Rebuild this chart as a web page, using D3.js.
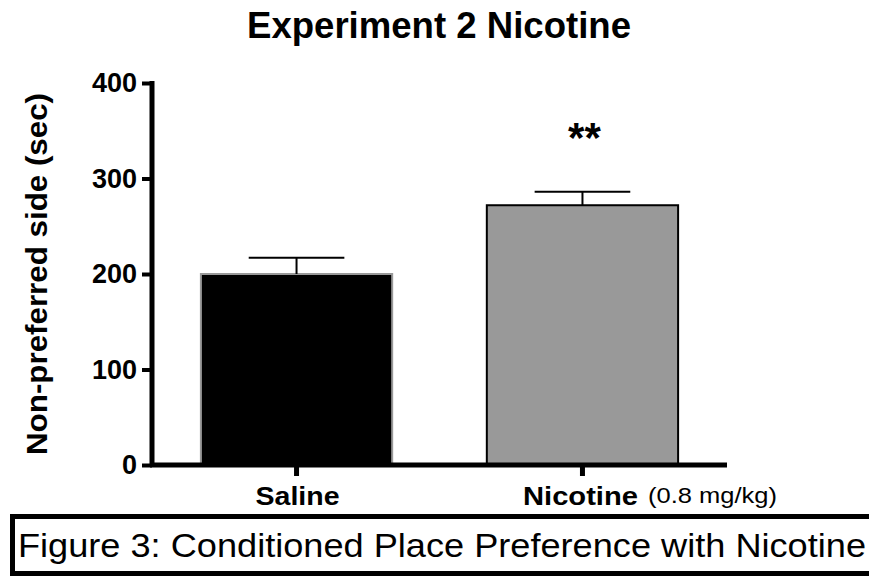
<!DOCTYPE html>
<html>
<head>
<meta charset="utf-8">
<script src="https://cdn.jsdelivr.net/npm/d3@7"></script>
<style>
  body { margin: 0; background: #fff; }
  svg { display: block; font-family: "Liberation Sans", Arial, Helvetica, sans-serif; }
</style>
</head>
<body>
<div id="chart"></div>
<script>
// data
const groups = ["Saline", "Nicotine"]
const means = [200, 272]
const sems = [17, 14]
const fills = ["#000000", "#999999"]
const strokes = ["#999999", "#000000"]
const stars = ["", "**"]
const yTicks = [0, 100, 200, 300, 400]

const width = 869, height = 577

const svg = d3.select("#chart").append("svg")
    .attr("width", width)
    .attr("height", height)

// scales
const x = d3.scaleBand()
    .domain(groups)
    .range([152, 727])
    .paddingInner(0.331)
    .paddingOuter(0.171)

const y = d3.scaleLinear()
    .domain([0, 400])
    .range([465, 83])

// title
svg.append("text")
    .attr("x", 439)
    .attr("y", 38)
    .attr("text-anchor", "middle")
    .attr("font-weight", "bold")
    .attr("font-size", 36)
    .attr("textLength", 384)
    .attr("lengthAdjust", "spacingAndGlyphs")
    .text("Experiment 2 Nicotine")

// bars
const bars = svg.append("g")
bars.selectAll("rect")
    .data(groups)
    .enter()
    .append("rect")
    .attr("x", d => x(d))
    .attr("y", (d, i) => y(means[i]))
    .attr("width", x.bandwidth())
    .attr("height", (d, i) => y(0) - y(means[i]))
    .attr("fill", (d, i) => fills[i])
    .attr("stroke", (d, i) => strokes[i])
    .attr("stroke-width", 2)

// error bars (upper only)
const err = svg.append("g").attr("stroke", "#000").attr("stroke-width", 2)
groups.forEach((g, i) => {
    const cx = x(g) + x.bandwidth() / 2
    err.append("line")
        .attr("x1", cx).attr("x2", cx)
        .attr("y1", y(means[i])).attr("y2", y(means[i] + sems[i]))
    err.append("line")
        .attr("x1", cx - x.bandwidth() / 4).attr("x2", cx + x.bandwidth() / 4)
        .attr("y1", y(means[i] + sems[i])).attr("y2", y(means[i] + sems[i]))
})

// significance stars
svg.append("g").selectAll("text")
    .data(groups)
    .enter()
    .append("text")
    .attr("x", d => x(d) + x.bandwidth() / 2 + 2)
    .attr("y", 152)
    .attr("text-anchor", "middle")
    .attr("font-weight", "bold")
    .attr("font-size", 42)
    .text((d, i) => stars[i])

// y axis
const yAxis = svg.append("g")
    .attr("transform", "translate(152,0)")
    .call(d3.axisLeft(y).tickValues(yTicks).tickSize(10).tickSizeOuter(0).tickPadding(5))
yAxis.select(".domain").attr("stroke-width", 5).attr("d", `M0,${y(400) - 2}V${y(0) + 2}`)
yAxis.selectAll(".tick line").attr("stroke-width", 4)
yAxis.selectAll(".tick text")
    .attr("font-size", 27)
    .attr("font-weight", "bold")
    .attr("fill", "#000")
    .attr("font-family", "'Liberation Sans', Arial, sans-serif")

// x axis
const xAxis = svg.append("g")
    .attr("transform", `translate(0,${y(0)})`)
    .call(d3.axisBottom(x).tickSize(11).tickSizeOuter(0).tickFormat(""))
xAxis.select(".domain").attr("stroke-width", 5).attr("d", "M150,0H727")
xAxis.selectAll(".tick line").attr("stroke-width", 5)

// x labels
svg.append("text")
    .attr("x", x("Saline") + x.bandwidth() / 2 + 1)
    .attr("y", 505)
    .attr("text-anchor", "middle")
    .attr("font-weight", "bold")
    .attr("font-size", 26)
    .attr("textLength", 84)
    .attr("lengthAdjust", "spacingAndGlyphs")
    .text("Saline")

svg.append("text")
    .attr("x", 523)
    .attr("y", 505)
    .attr("font-weight", "bold")
    .attr("font-size", 26)
    .attr("textLength", 115)
    .attr("lengthAdjust", "spacingAndGlyphs")
    .text("Nicotine")

svg.append("text")
    .attr("x", 648)
    .attr("y", 503)
    .attr("font-size", 22)
    .attr("textLength", 129)
    .attr("lengthAdjust", "spacingAndGlyphs")
    .text("(0.8 mg/kg)")

// y label
svg.append("text")
    .attr("transform", "translate(47,274) rotate(-90)")
    .attr("text-anchor", "middle")
    .attr("font-weight", "bold")
    .attr("font-size", 29)
    .attr("textLength", 362)
    .attr("lengthAdjust", "spacingAndGlyphs")
    .text("Non-preferred side (sec)")

// figure caption box
svg.append("rect")
    .attr("x", 12.5)
    .attr("y", 516.5)
    .attr("width", 870)
    .attr("height", 57)
    .attr("fill", "none")
    .attr("stroke", "#000")
    .attr("stroke-width", 5)

svg.append("text")
    .attr("x", 18)
    .attr("y", 557)
    .attr("font-size", 34)
    .attr("textLength", 848)
    .attr("lengthAdjust", "spacingAndGlyphs")
    .text("Figure 3: Conditioned Place Preference with Nicotine")
</script>
</body>
</html>
